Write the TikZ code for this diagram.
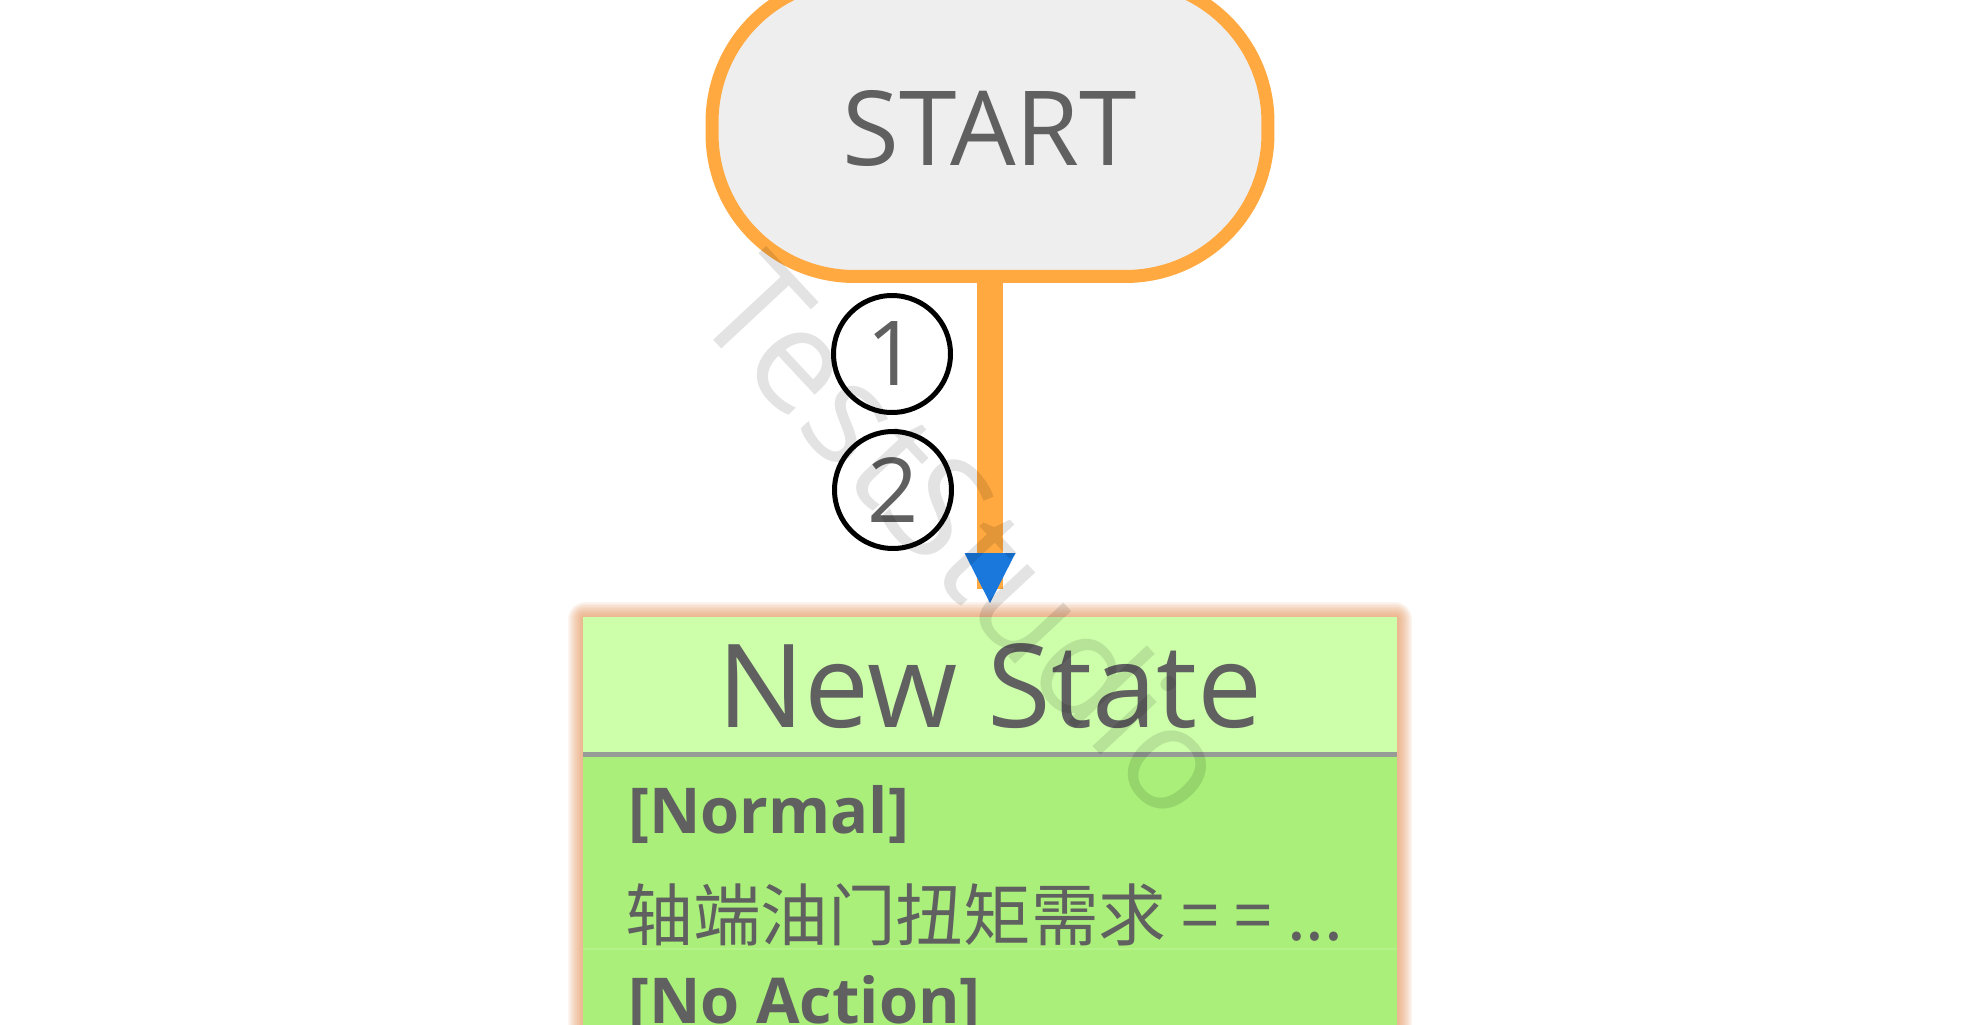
\documentclass[tikz,border=0pt]{standalone}
\usepackage{fontspec}
\setmainfont{Open Sans}
\newfontfamily\cjk{Noto Sans CJK SC}
\usetikzlibrary{positioning}
\definecolor{startorange}{HTML}{FFA940}
\definecolor{startgray}{HTML}{EEEEEE}
\definecolor{labelgray}{HTML}{606060}
\definecolor{tipblue}{HTML}{1A78DC}
\definecolor{headgreen}{HTML}{CDFFAA}
\definecolor{bodygreen}{HTML}{A9EF7A}
\definecolor{rowgreen}{HTML}{B4F38A}
\definecolor{sepgray}{HTML}{979C97}
\definecolor{glowclr}{HTML}{E08A4C}
\begin{document}
\begin{tikzpicture}[x=0.02cm,y=-0.02cm,
    startbox/.style={draw=startorange,fill=startgray,line width=0.26cm,rounded corners=2.85cm,
        minimum width=11.12cm,minimum height=5.94cm,outer sep=0pt,text=labelgray,
        font=\fontsize{59}{70}\selectfont},
    numcirc/.style={circle,draw=black,fill=white,line width=0.1cm,minimum size=2.34cm,
        inner sep=0pt,text=labelgray,font=\fontsize{51}{60}\selectfont},
    statehead/.style={fill=headgreen,minimum width=16.28cm,minimum height=2.76cm,
        inner sep=0pt,outer sep=0pt,text=labelgray,font=\fontsize{66}{78}\selectfont},
    statebody/.style={fill=bodygreen,minimum width=16.28cm,minimum height=6cm,
        inner sep=0pt,outer sep=0pt},
    guardtxt/.style={anchor=base west,inner sep=0pt,text=labelgray,
        font=\bfseries\fontsize{36}{44}\selectfont},
    condtxt/.style={anchor=base west,inner sep=0pt,text=labelgray,
        font=\cjk\fontsize{38.5}{46}\selectfont},
    flowline/.style={draw=startorange,line width=0.52cm},
    watermark/.style={text=black,text opacity=0.11,font=\fontsize{82}{96}\selectfont}]
    \useasboundingbox (0,0) rectangle (1980,1024);
    \clip (0,0) rectangle (1980,1024);
    %% glow round the state
    \foreach \g in {1,...,10}
        \fill[glowclr,opacity=0.09,rounded corners=\g pt] (583-\g*1.5,617-\g*1.5) rectangle (1397+\g*1.5,1100);
    %% state
    \node[statehead] (newstate) at (990,686) {New State};
    \node[statebody,below=0pt of newstate] (body) {};
    \draw[sepgray,line width=0.1cm] (newstate.south west) -- (newstate.south east);
    \draw[rowgreen,line width=0.03cm] (583,949) -- (1397,949);
    \node[guardtxt] (normal) at (628,833) {[Normal]};
    \node[condtxt] (cond) at (625,940) {轴端油门扭矩需求 = = ...};
    \node[guardtxt] (noaction) at (628,1023) {[No Action]};
    %% start
    \node[startbox] (start) at (990,128) {START};
    \draw[flowline,shorten >=0.56cm] (start.south) -- (newstate.north);
    \fill[tipblue] ([yshift=0.28cm]newstate.north) -- ++(-25.5,-50) -- ++(51,0) -- cycle;
    \node[numcirc] (one) at (892,354) {1};
    \node[numcirc] (two) at (893,490) {2};
    \node[watermark,rotate=-47] (mark) at (969,535) {TestStudio};
\end{tikzpicture}
\end{document}
